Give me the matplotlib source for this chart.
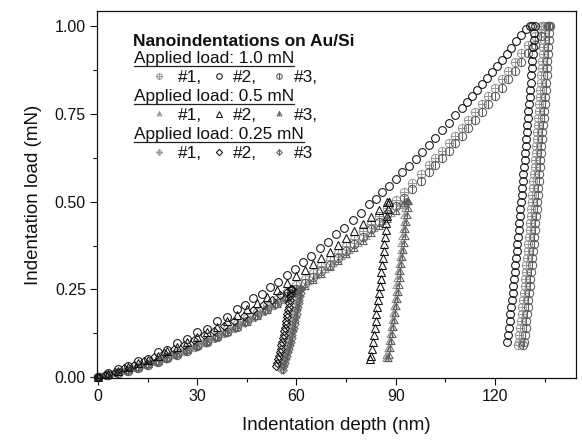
import matplotlib
matplotlib.use('Agg')
import matplotlib.pyplot as plt
from matplotlib.path import Path
from matplotlib.lines import Line2D
from matplotlib.ticker import MultipleLocator, FormatStrFormatter

plt.rcParams['font.family'] = ['Liberation Sans', 'DejaVu Sans']

# ---------------- data (depth in nm, load in mN) ----------------
# 1.0 mN, #2 (open circles)
c2_load_depth = [0, 3, 6, 9, 12, 15, 18, 21, 24, 27, 30, 33, 36, 39, 42, 44.5, 47, 49.5, 52, 54.5,
                 57, 59.5, 62, 64.5, 67, 69.5, 72, 74.5, 77, 79.5, 82, 84, 86, 88, 90, 92, 94, 96, 98, 100,
                 102, 104, 106, 108, 110, 111.5, 113, 114.5, 116, 117.5, 119, 120.5, 122, 123.5, 125,
                 126.5, 128, 129.5, 130.5, 131.2]
c2_load_force = [0, 0.012, 0.024, 0.030, 0.046, 0.052, 0.071, 0.078, 0.098, 0.107, 0.128, 0.138, 0.160,
                 0.172, 0.195, 0.205, 0.226, 0.238, 0.258, 0.272, 0.292, 0.308, 0.328, 0.345, 0.367, 0.384,
                 0.407, 0.425, 0.448, 0.468, 0.492, 0.509, 0.527, 0.546, 0.565, 0.584, 0.603, 0.623, 0.643,
                 0.663, 0.683, 0.704, 0.725, 0.746, 0.768, 0.784, 0.801, 0.818, 0.835, 0.852, 0.869, 0.886,
                 0.904, 0.921, 0.939, 0.957, 0.975, 0.994, 1.000, 1.000]
c2_unload_depth = [132.00, 131.85, 131.70, 131.54, 131.39, 131.23, 131.08, 130.92, 130.76, 130.61, 130.45,
                   130.28, 130.12, 129.96, 129.80, 129.63, 129.46, 129.30, 129.13, 128.96, 128.79, 128.61,
                   128.44, 128.26, 128.08, 127.90, 127.72, 127.54, 127.35, 127.16, 126.97, 126.78, 126.59,
                   126.39, 126.18, 125.98, 125.77, 125.56, 125.34, 125.12, 124.90, 124.66, 124.42, 124.18,
                   123.92, 123.65]
unload_force_1p0 = [1.00, 0.98, 0.96, 0.94, 0.92, 0.90, 0.88, 0.86, 0.84, 0.82, 0.80, 0.78, 0.76, 0.74,
                    0.72, 0.70, 0.68, 0.66, 0.64, 0.62, 0.60, 0.58, 0.56, 0.54, 0.52, 0.50, 0.48, 0.46,
                    0.44, 0.42, 0.40, 0.38, 0.36, 0.34, 0.32, 0.30, 0.28, 0.26, 0.24, 0.22, 0.20, 0.18,
                    0.16, 0.14, 0.12, 0.10, 0.09]

# 1.0 mN, #1 and #3 (grey)
c1_load_depth = [0, 3, 6, 9, 12, 15, 18, 21, 24, 27, 30, 33, 36, 39, 42, 45, 48, 51, 54, 57, 60,
                 62.5, 65, 67.5, 70, 72.5, 75, 77.5, 80, 82.5, 85, 87.5, 90, 92.5, 95, 97.5,
                 100, 102, 104, 106, 108, 110, 112, 114, 116, 118, 120, 122, 124, 126, 128, 130, 132, 134,
                 134.5]
c1_load_force = [0, 0.0059, 0.0125, 0.0199, 0.0280, 0.0370, 0.0466, 0.0570, 0.0682, 0.0801, 0.0928,
                 0.1062, 0.1204, 0.1354, 0.1511, 0.1676, 0.1848, 0.2027, 0.2215, 0.2410, 0.2612,
                 0.2787, 0.2967, 0.3152, 0.3342, 0.3538, 0.3739, 0.3944, 0.4155, 0.4372, 0.4594, 0.4821,
                 0.5053, 0.5290, 0.5533, 0.5781,
                 0.6034, 0.6241, 0.6450, 0.6663, 0.6880, 0.7099, 0.7322, 0.7549, 0.7779, 0.8012, 0.8249,
                 0.8488, 0.8732, 0.8979, 0.9229, 0.9482, 0.9739, 1.0000, 1.0000]
c1_unload_depth = [135.00, 134.86, 134.71, 134.57, 134.43, 134.28, 134.13, 133.99, 133.84, 133.69, 133.54,
                   133.39, 133.23, 133.08, 132.93, 132.77, 132.61, 132.46, 132.30, 132.14, 131.98, 131.81,
                   131.65, 131.48, 131.31, 131.15, 130.97, 130.80, 130.63, 130.45, 130.27, 130.09, 129.90,
                   129.72, 129.53, 129.33, 129.14, 128.94, 128.73, 128.53, 128.31, 128.09, 127.87, 127.64,
                   127.40, 127.14, 127.01]
c3_load_depth = [0, 3, 6, 9, 12, 15, 18, 21, 24, 27, 30, 33, 36, 39, 42, 45, 48, 51, 54, 57, 60,
                 62.5, 65, 67.5, 70, 72.5, 75, 77.5, 80, 82.5, 85, 87.5, 90, 92.5, 95, 97.5,
                 100, 102, 104, 106, 108, 110, 112, 114, 116, 118, 120, 122, 124, 126, 128, 130, 132, 134,
                 136, 136.3]
c3_load_force = [0, 0.0053, 0.0113, 0.0182, 0.0257, 0.0341, 0.0431, 0.0530, 0.0636, 0.0749, 0.0870,
                 0.0999, 0.1135, 0.1279, 0.1430, 0.1589, 0.1756, 0.1929, 0.2111, 0.2300, 0.2497,
                 0.2667, 0.2842, 0.3022, 0.3207, 0.3398, 0.3594, 0.3795, 0.4001, 0.4213, 0.4430, 0.4652,
                 0.4879, 0.5112, 0.5350, 0.5593,
                 0.5841, 0.6044, 0.6250, 0.6458, 0.6671, 0.6887, 0.7106, 0.7329, 0.7556, 0.7784, 0.8017,
                 0.8253, 0.8493, 0.8736, 0.8981, 0.9231, 0.9484, 0.9741, 1.0000, 1.0000]
c3_unload_depth = [136.60, 136.46, 136.31, 136.17, 136.03, 135.88, 135.73, 135.59, 135.44, 135.29, 135.14,
                   134.99, 134.83, 134.68, 134.53, 134.37, 134.21, 134.06, 133.90, 133.74, 133.58, 133.41,
                   133.25, 133.08, 132.91, 132.75, 132.57, 132.40, 132.23, 132.05, 131.87, 131.69, 131.50,
                   131.32, 131.13, 130.93, 130.74, 130.54, 130.33, 130.13, 129.91, 129.69, 129.47, 129.24,
                   129.00, 128.74, 128.61]

# 0.5 mN
t2_load_depth = [0, 3, 6, 9, 12, 15, 18, 21, 24, 27, 30, 33, 36, 39, 42, 45, 48, 51, 54, 57, 60,
                 62.5, 65, 67.5, 70, 72.5, 75, 77.5, 80, 82.5, 85, 87.5, 88.0]
t2_load_force = [0, 0.0087, 0.0180, 0.0279, 0.0384, 0.0494, 0.0611, 0.0734, 0.0862, 0.0997, 0.1137,
                 0.1283, 0.1436, 0.1594, 0.1758, 0.1928, 0.2104, 0.2286, 0.2474, 0.2668, 0.2868,
                 0.3039, 0.3214, 0.3394, 0.3577, 0.3765, 0.3956, 0.4152, 0.4352, 0.4556, 0.4764, 0.4977,
                 0.5000]
t2_unload_depth = [87.83, 87.63, 87.42, 87.21, 87.00, 86.78, 86.57, 86.35, 86.12, 85.90, 85.67, 85.43,
                   85.20, 84.95, 84.70, 84.45, 84.19, 83.92, 83.64, 83.35, 83.05, 82.73, 82.40, 82.22]
unload_force_0p5 = [0.50, 0.48, 0.46, 0.44, 0.42, 0.40, 0.38, 0.36, 0.34, 0.32, 0.30, 0.28, 0.26, 0.24,
                    0.22, 0.20, 0.18, 0.16, 0.14, 0.12, 0.10, 0.08, 0.06, 0.05]
t1_load_depth = [0, 1.5, 4.5, 7.5, 10.5, 13.5, 16.5, 19.5, 22.5, 25.5, 28.5, 31.5, 34.5, 37.5, 40.5, 43.5,
                 46.5, 49.5, 52.5, 55.5, 58.5, 61, 63.5, 66, 68.5, 71, 73.5, 76, 78.5, 81, 83.5, 86, 88.5,
                 91, 92.5, 92.8]
t1_load_force = [0, 0.0026, 0.0085, 0.0150, 0.0223, 0.0303, 0.0390, 0.0485, 0.0586, 0.0695, 0.0811,
                 0.0934, 0.1064, 0.1202, 0.1347, 0.1499, 0.1658, 0.1824, 0.1998, 0.2178, 0.2366,
                 0.2529, 0.2696, 0.2868, 0.3045, 0.3227, 0.3414, 0.3606, 0.3803, 0.4005, 0.4213, 0.4425,
                 0.4642, 0.4864, 0.5000, 0.5000]
t1_unload_depth = [93.10, 92.88, 92.65, 92.42, 92.19, 91.96, 91.72, 91.48, 91.24, 90.99, 90.74, 90.48,
                   90.22, 89.95, 89.68, 89.40, 89.12, 88.82, 88.52, 88.20, 87.88, 87.53, 87.16, 86.96]
t3_load_depth = [0, 3, 6, 9, 12, 15, 18, 21, 24, 27, 30, 33, 36, 39, 42, 45, 48, 51, 54, 57, 60,
                 62.5, 65, 67.5, 70, 72.5, 75, 77.5, 80, 82.5, 85, 87.5, 90, 92.5, 93.3, 93.6]
t3_load_force = [0, 0.0052, 0.0112, 0.0179, 0.0253, 0.0334, 0.0422, 0.0518, 0.0621, 0.0731, 0.0848,
                 0.0973, 0.1104, 0.1243, 0.1389, 0.1542, 0.1703, 0.1870, 0.2045, 0.2227, 0.2416,
                 0.2579, 0.2748, 0.2921, 0.3099, 0.3282, 0.3470, 0.3663, 0.3862, 0.4065, 0.4273, 0.4486,
                 0.4704, 0.4928, 0.5000, 0.5000]
t3_unload_depth = [93.80, 93.58, 93.35, 93.12, 92.89, 92.66, 92.42, 92.18, 91.94, 91.69, 91.44, 91.18,
                   90.92, 90.65, 90.38, 90.10, 89.82, 89.52, 89.22, 88.90, 88.58, 88.23, 87.86, 87.66]

# 0.25 mN
d2_load_depth = [0, 2, 5, 8, 11, 14, 17, 20, 23, 26, 29, 32, 35, 38, 41, 44, 47, 50, 52.5, 55, 57, 58.2, 58.4]
d2_load_force = [0, 0.0060, 0.0154, 0.0252, 0.0353, 0.0460, 0.0570, 0.0684, 0.0803, 0.0925, 0.1052,
                 0.1183, 0.1318, 0.1457, 0.1600, 0.1748, 0.1899, 0.2055, 0.2188, 0.2324, 0.2435, 0.2500,
                 0.2500]
d2_unload_depth = [58.50, 58.33, 58.16, 57.98, 57.80, 57.63, 57.44, 57.26, 57.07, 56.88, 56.69, 56.50,
                   56.30, 56.09, 55.88, 55.67, 55.45, 55.23, 54.99, 54.75, 54.50, 54.24, 53.95]
unload_force_0p25 = [0.25, 0.24, 0.23, 0.22, 0.21, 0.20, 0.19, 0.18, 0.17, 0.16, 0.15, 0.14, 0.13, 0.12,
                     0.11, 0.10, 0.09, 0.08, 0.07, 0.06, 0.05, 0.04, 0.03, 0.02]
d1_load_depth = [0, 1, 4, 7, 10, 13, 16, 19, 22, 25, 28, 31, 34, 37, 40, 43, 46, 49, 52, 55, 58, 60.3, 60.6]
d1_load_force = [0, 0.0019, 0.0080, 0.0148, 0.0223, 0.0305, 0.0394, 0.0489, 0.0592, 0.0701, 0.0817,
                 0.0940, 0.1070, 0.1206, 0.1350, 0.1500, 0.1657, 0.1821, 0.1992, 0.2169, 0.2354, 0.2500,
                 0.2500]
d1_unload_depth = [60.80, 60.61, 60.41, 60.21, 60.01, 59.81, 59.60, 59.40, 59.18, 58.97, 58.75, 58.53,
                   58.30, 58.07, 57.84, 57.60, 57.35, 57.09, 56.83, 56.56, 56.27, 55.97, 55.65, 55.30]
d3_load_depth = [0, 2.5, 5.5, 8.5, 11.5, 14.5, 17.5, 20.5, 23.5, 26.5, 29.5, 32.5, 35.5, 38.5, 41.5, 44.5,
                 47.5, 50.5, 53.5, 56.5, 59.5, 61, 61.3]
d3_load_force = [0, 0.0047, 0.0109, 0.0179, 0.0255, 0.0338, 0.0428, 0.0525, 0.0628, 0.0739, 0.0856,
                 0.0980, 0.1111, 0.1249, 0.1393, 0.1545, 0.1703, 0.1868, 0.2040, 0.2219, 0.2404, 0.2500,
                 0.2500]
d3_unload_depth = [61.50, 61.31, 61.11, 60.91, 60.71, 60.51, 60.30, 60.10, 59.88, 59.67, 59.45, 59.23,
                   59.00, 58.77, 58.54, 58.30, 58.05, 57.79, 57.53, 57.26, 56.97, 56.67, 56.35, 56.00]

group_titles = ["Applied load: 1.0 mN", "Applied load: 0.5 mN", "Applied load: 0.25 mN"]
run_labels = [["#1,", "#2,", "#3,"], ["#1,", "#2,", "#3,"], ["#1,", "#2,", "#3"]]
x_ticks = [0, 30, 60, 90, 120]
y_ticks = [0.00, 0.25, 0.50, 0.75, 1.00]

# ---------------- markers ----------------
def seg(x0, y0, x1, y1):
    return Path([(x0, y0), (x1, y1)], [Path.MOVETO, Path.LINETO])

circle = Path.unit_circle()
tri = Path.unit_regular_polygon(3)
dia = Path.unit_regular_polygon(4)
m_circ_cross = Path.make_compound_path(circle, seg(-1, 0, 1, 0), seg(0, -1, 0, 1))
m_circ_bar = Path.make_compound_path(circle, seg(0, -1, 0, 1))
m_tri_cross = Path.make_compound_path(tri, seg(0, -0.5, 0, 1), seg(-0.45, 0.1, 0.45, 0.1))
m_tri_bar = Path.make_compound_path(tri, seg(0, -0.5, 0, 1))
m_dia_cross = Path.make_compound_path(dia, seg(-1, 0, 1, 0), seg(0, -1, 0, 1))
m_dia_bar = Path.make_compound_path(dia, seg(0, -1, 0, 1))

GREY1 = '#999999'
GREY3 = '#5e5e5e'
BLACK = '#111111'

fig = plt.figure(figsize=(5.82, 4.42), dpi=100)
W, H = 582, 442
ax = fig.add_axes([97 / W, 1 - 378 / H, 479 / W, 367 / H])

# (depth, force, marker, color, size) -- grey runs first, black on top
series = [
    (c1_load_depth + c1_unload_depth, c1_load_force + unload_force_1p0, m_circ_cross, GREY1, 6.0),
    (t1_load_depth + t1_unload_depth, t1_load_force + unload_force_0p5, m_tri_cross, GREY1, 6.0),
    (d1_load_depth + d1_unload_depth, d1_load_force + unload_force_0p25, m_dia_cross, GREY1, 5.2),
    (c3_load_depth + c3_unload_depth, c3_load_force + unload_force_1p0, m_circ_bar, GREY3, 6.0),
    (t3_load_depth + t3_unload_depth, t3_load_force + unload_force_0p5, m_tri_bar, GREY3, 6.0),
    (d3_load_depth + d3_unload_depth, d3_load_force + unload_force_0p25, m_dia_bar, GREY3, 5.2),
    (c2_load_depth + c2_unload_depth, c2_load_force + unload_force_1p0[:len(c2_unload_depth)], 'o', BLACK, 5.6),
    (t2_load_depth + t2_unload_depth, t2_load_force + unload_force_0p5, '^', BLACK, 5.6),
    (d2_load_depth + d2_unload_depth, d2_load_force + unload_force_0p25[:len(d2_unload_depth)], 'D', BLACK, 4.2),
]
for xs, ys, mk, col, ms in series:
    ax.plot(xs, ys, linestyle='none', marker=mk, markersize=ms, markerfacecolor='none',
            markeredgecolor=col, markeredgewidth=0.75, clip_on=False)

ax.set_xlim(-0.3, 144.5)
ax.set_ylim(-0.003, 1.044)
ax.set_xticks(x_ticks)
ax.set_yticks(y_ticks)
ax.xaxis.set_minor_locator(MultipleLocator(15))
ax.yaxis.set_minor_locator(MultipleLocator(0.125))
ax.yaxis.set_major_formatter(FormatStrFormatter('%.2f'))
ax.tick_params(which='major', direction='out', length=5, width=0.8, labelsize=11.5, pad=3,
               top=False, right=False, colors='#111111')
ax.tick_params(which='minor', direction='out', length=3, width=0.8, top=False, right=False,
               colors='#111111')
for sp in ax.spines.values():
    sp.set_linewidth(0.9)
    sp.set_color('#111111')
ax.set_xlabel('Indentation depth (nm)', fontsize=13.5, labelpad=9, color='#111111')
ax.set_ylabel('Indentation load (mN)', fontsize=13.5, labelpad=9, color='#111111')

# ---------------- legend box (manual) ----------------
def fx(px):
    return px / W

def fy(py):
    return 1 - py / H

DX, DY = -4, 5
fig.text(fx(137 + DX), fy(40.5 + DY), 'Nanoindentations on Au/Si', fontsize=12.5, fontweight='bold',
         va='baseline', ha='left', color='#111111')
header_base = [58.5, 96.5, 134.5]
row_base = [77, 115.5, 153.5]
legend_markers = [[m_circ_cross, 'o', m_circ_bar], [m_tri_cross, '^', m_tri_bar], [m_dia_cross, 'D', m_dia_bar]]
legend_colors = [GREY1, BLACK, GREY3]
legend_sizes = [[4.0, 4.0, 4.0], [4.0, 4.0, 4.0], [4.0, 3.2, 4.0]]
marker_x = [163, 223, 283]
label_x = [182, 237, 298]
headers = []
for g in range(3):
    t = fig.text(fx(138 + DX), fy(header_base[g] + DY), group_titles[g], fontsize=12.4, va='baseline',
                 ha='left', color='#111111')
    headers.append((t, header_base[g] + DY))
    for k in range(3):
        fig.add_artist(Line2D([fx(marker_x[k] + DX)], [fy(row_base[g] + DY - 6.5)], transform=fig.transFigure,
                              marker=legend_markers[g][k], markersize=legend_sizes[g][k],
                              markerfacecolor='none', markeredgecolor=legend_colors[k],
                              markeredgewidth=0.75, linestyle='none'))
        fig.text(fx(label_x[k] + DX), fy(row_base[g] + DY), run_labels[g][k], fontsize=12.4, va='baseline',
                 ha='left', color='#111111')

fig.canvas.draw()
renderer = fig.canvas.get_renderer()
for t, base in headers:
    bb = t.get_window_extent(renderer)
    yline = fy(base + 2.5)
    fig.add_artist(Line2D([bb.x0 / W, bb.x1 / W], [yline, yline], transform=fig.transFigure,
                          color='#222222', linewidth=0.9))

fig.savefig('out.png', dpi=100)
